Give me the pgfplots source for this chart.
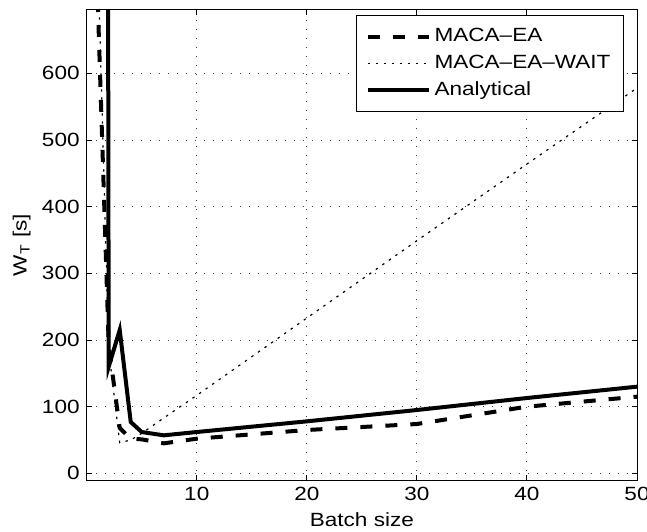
\documentclass[border=0pt]{standalone}
\usepackage{fontspec}
\setmainfont[FakeStretch=1.18]{Liberation Sans}
\usepackage{pgfplots}
\pgfplotsset{compat=1.18}
\begin{document}
\begin{tikzpicture}
\begin{axis}[
  name=ax,
  scale only axis,
  width=275.15bp, height=235bp,
  xmin=0, xmax=50, ymin=-10, ymax=695,
  xtick={10,20,30,40,50},
  ytick={0,100,200,300,400,500,600},
  /pgf/number format/assume math mode=true,
  tick label style={font=\fontsize{9.6}{11}\selectfont},
  label style={font=\fontsize{9.6}{11}\selectfont},
  tick align=inside,
  major tick length=2.5bp,
  tick style={black, line width=0.5bp},
  axis line style={line width=0.5bp},
  grid=major,
  grid style={black!75, line width=0.5bp, dash pattern=on 0.6bp off 3.9bp},
  xlabel={Batch size},
  ylabel={W\textsubscript{T} [s]},
  xlabel style={at={(axis description cs:0.5,-0.0851)}, anchor=center},
  ylabel style={at={(axis description cs:-0.118,0.5)}, anchor=center},
  legend cell align=left,
  legend style={at={(rel axis cs:0.9764,0.9894)}, anchor=north east,
    draw=black, line width=0.5bp, font=\fontsize{9.6}{11}\selectfont,
    inner xsep=4.5bp, inner ysep=4.5bp, row sep=1.2bp},
  legend image code/.code={\draw[#1] (0bp,0bp) -- (30.5bp,0bp);},
]
\addplot[black, line width=2bp, dash pattern=on 6bp off 6.5bp] coordinates {
 (1,710) (2,192) (3,68) (4,52) (5,51) (7,45) (10,52) (20,65) (30,74) (40,100) (50,115)};
\addlegendentry{MACA\textendash EA}
\addplot[black, line width=0.6bp, dash pattern=on 1.2bp off 2.8bp] coordinates {
 (1,780) (2,185) (3,46) (4,50) (5,60) (7,83) (10,117) (20,233) (30,349) (40,464) (50,578)};
\addlegendentry{MACA\textendash EA\textendash WAIT}
\addplot[black, line width=2bp] coordinates {
 (1,10000) (2,160) (3,215) (4,77) (5,62) (7,57) (10,62) (20,78) (30,95) (40,113) (50,130)};
\addlegendentry{Analytical}
\end{axis}
\pgfresetboundingbox
\path ([shift={(-43.35bp,-25.5bp)}]ax.south west) rectangle ([shift={(5bp,5bp)}]ax.north east);
\end{tikzpicture}
\end{document}
